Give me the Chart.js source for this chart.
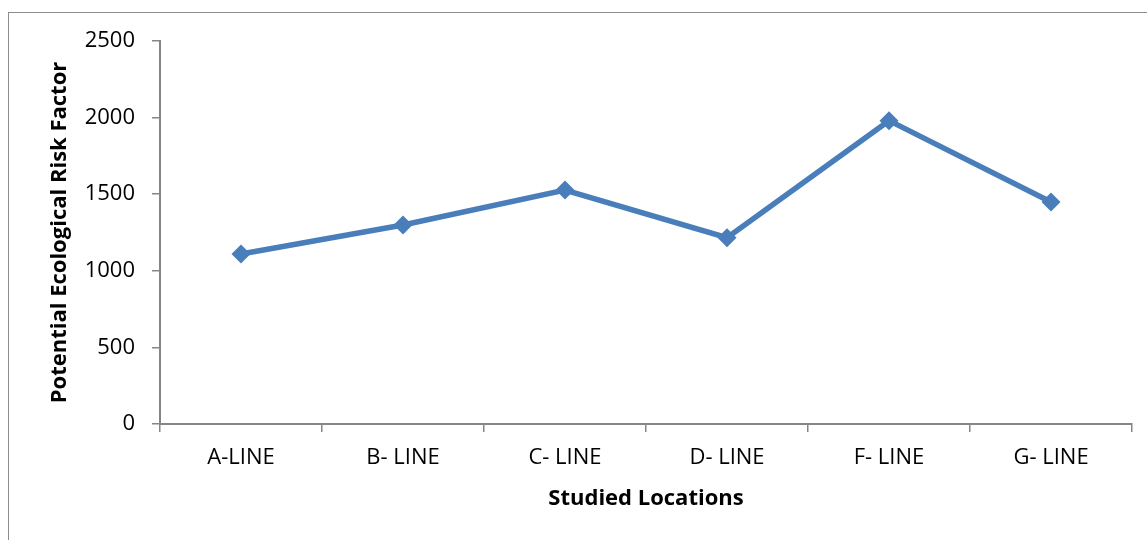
<!DOCTYPE html>
<html>
<head>
<meta charset="utf-8">
<script src="https://cdn.jsdelivr.net/npm/chart.js@4/dist/chart.umd.min.js"></script>
<style>
  html, body { margin: 0; padding: 0; background: #fff; }
  #wrap { position: relative; width: 1147px; height: 540px; overflow: hidden; }
  #frame { position: absolute; left: 8px; top: 12px; width: 1200px; height: 600px; border: 1px solid #8c8c8c; box-sizing: border-box; }
  #box { position: absolute; left: 0; top: 0; width: 1147px; height: 540px; }
</style>
</head>
<body>
<div id="wrap">
  <div id="frame"></div>
  <div id="box"><canvas id="c" width="1147" height="540"></canvas></div>
</div>
<script>
// Potential ecological risk factor per studied location
const locations = ['A-LINE', 'B- LINE', 'C- LINE', 'D- LINE', 'F- LINE', 'G- LINE'];
const riskFactor = [1110, 1299, 1527, 1216, 1980, 1449];
const yTicks = [0, 500, 1000, 1500, 2000, 2500];

const axisGray = '#868686';
const lineBlue = '#4a7ebb';
const font = "'Open Sans', 'DejaVu Sans', sans-serif";

new Chart(document.getElementById('c'), {
  type: 'line',
  data: {
    labels: locations,
    datasets: [{
      data: riskFactor,
      borderColor: lineBlue,
      backgroundColor: lineBlue,
      borderWidth: 5.5,
      pointStyle: 'rectRot',
      pointRadius: 9.5,
      pointHoverRadius: 9.5,
      pointBorderWidth: 0,
      tension: 0
    }]
  },
  options: {
    responsive: false,
    animation: false,
    events: [],
    layout: { padding: { left: 0, right: 15, top: 41, bottom: 0 } },
    plugins: { legend: { display: false }, tooltip: { enabled: false } },
    scales: {
      x: {
        type: 'category',
        offset: true,
        afterFit: s => { s.height = 116; },
        grid: { offset: true, drawOnChartArea: false, tickLength: 8, color: axisGray, lineWidth: 1.5 },
        border: { color: axisGray, width: 2 },
        ticks: { color: '#000', font: { family: font, size: 22 }, padding: 13, maxRotation: 0 },
        title: { display: true, text: 'Studied Locations', color: '#000',
                 font: { family: font, size: 22, weight: 'bold' }, padding: { top: 0, bottom: 28 } }
      },
      y: {
        min: 0, max: 2500,
        afterFit: s => { s.width = 160; },
        afterBuildTicks: s => { s.ticks = yTicks.map(v => ({ value: v })); },
        grid: { drawOnChartArea: false, tickLength: 8, color: axisGray, lineWidth: 1.5 },
        border: { color: axisGray, width: 2 },
        ticks: { color: '#000', font: { family: font, size: 22 }, padding: 17,
                 callback: v => String(v) },
        title: { display: true, text: 'Potential Ecological Risk Factor', color: '#000',
                 font: { family: font, size: 22, weight: 'bold' }, padding: { top: 47, bottom: 0 } }
      }
    }
  }
});
</script>
</body>
</html>
